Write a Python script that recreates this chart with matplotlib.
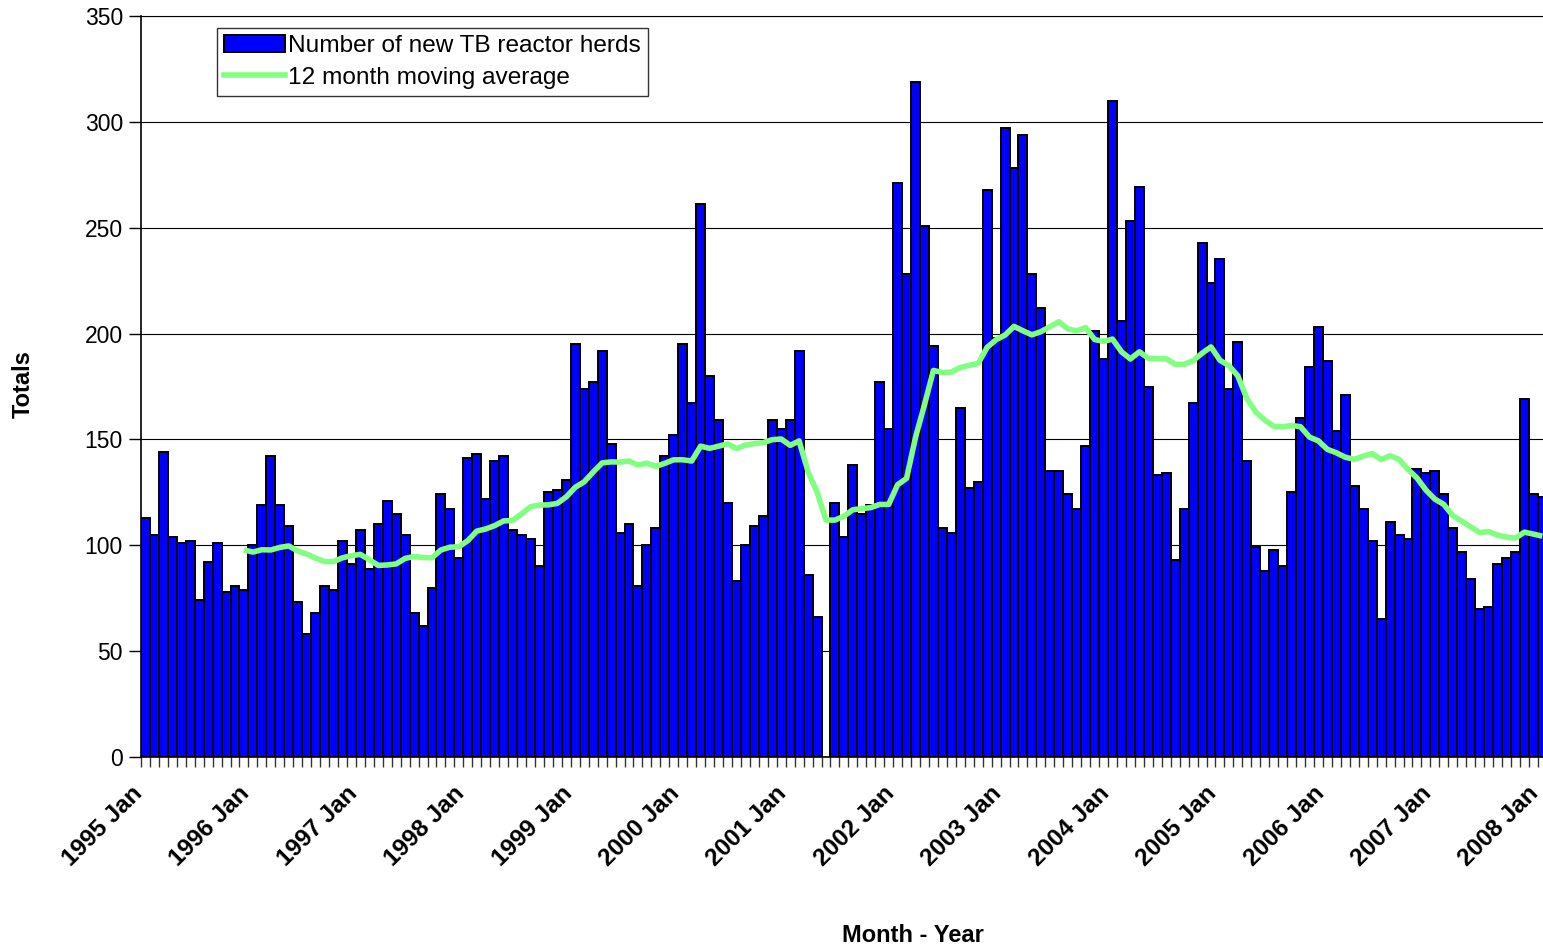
import numpy as np
import matplotlib
matplotlib.use("Agg")
import matplotlib.pyplot as plt
from matplotlib.patches import Patch
from matplotlib.lines import Line2D
from matplotlib.transforms import ScaledTranslation, blended_transform_factory

plt.rcParams['font.family'] = ['Liberation Sans', 'DejaVu Sans']

# Monthly number of new TB reactor herds, Jan 1995 .. Jan 2008 (May 2001 missing)
y1995 = [113, 105, 144, 104, 101, 102, 74, 92, 101, 78, 81, 79]
y1996 = [100, 119, 142, 119, 109, 73, 58, 68, 81, 79, 102, 91]
y1997 = [107, 89, 110, 121, 115, 105, 68, 62, 80, 124, 117, 94]
y1998 = [141, 143, 122, 140, 142, 107, 105, 103, 90, 125, 126, 131]
y1999 = [195, 174, 177, 192, 148, 106, 110, 81, 100, 108, 142, 152]
y2000 = [195, 167, 261, 180, 159, 120, 83, 100, 109, 114, 159, 155]
y2001 = [159, 192, 86, 66, np.nan, 120, 104, 138, 115, 119, 177, 155]
y2002 = [271, 228, 319, 251, 194, 108, 106, 165, 127, 130, 268, 198]
y2003 = [297, 278, 294, 228, 212, 135, 135, 124, 117, 147, 201, 188]
y2004 = [310, 206, 253, 269, 175, 133, 134, 93, 117, 167, 243, 224]
y2005 = [235, 174, 196, 140, 99, 88, 98, 90, 125, 160, 184, 203]
y2006 = [187, 154, 171, 128, 117, 102, 65, 111, 105, 103, 136, 134]
y2007 = [135, 124, 108, 97, 84, 70, 71, 91, 94, 97, 169, 124]
y2008 = [123]

# 12 month moving average (starts Dec 1995)
ma_start = 11
ma_values = [97.8,
    96.8, 97.9, 97.8, 99.0, 99.7, 97.3, 95.9, 93.9, 92.3, 92.3, 94.1, 95.1,
    95.7, 93.2, 90.5, 90.7, 91.2, 93.8, 94.7, 94.2, 94.1, 97.8, 99.1, 99.3,
    102.2, 106.7, 107.7, 109.3, 111.5, 111.7, 114.8, 118.2, 119.0, 119.1, 119.8, 122.9,
    127.4, 130.0, 134.6, 138.9, 139.4, 139.3, 139.8, 137.9, 138.8, 137.3, 138.7, 140.4,
    140.4, 139.8, 146.8, 145.8, 146.8, 147.9, 145.7, 147.3, 148.0, 148.5, 149.9, 150.2,
    147.2, 149.3, 134.7, 125.2, 111.9, 111.9, 113.7, 116.8, 117.3, 117.8, 119.3, 119.3,
    128.6, 131.6, 151.0, 166.4, 182.6, 181.6, 181.8, 184.0, 185.0, 185.9, 193.5, 197.1,
    199.3, 203.4, 201.3, 199.4, 200.9, 203.2, 205.6, 202.2, 201.3, 202.8, 197.2, 196.3,
    197.4, 191.4, 188.0, 191.4, 188.3, 188.2, 188.1, 185.5, 185.5, 187.2, 190.7, 193.7,
    187.4, 184.8, 180.0, 169.3, 162.9, 159.2, 156.2, 155.9, 156.6, 156.0, 151.1, 149.3,
    145.3, 143.7, 141.6, 140.6, 142.1, 143.3, 140.5, 142.3, 140.6, 135.8, 131.8, 126.1,
    121.8, 119.3, 114.0, 111.4, 108.7, 106.0, 106.5, 104.8, 103.9, 103.4, 106.2, 105.3,
    104.3]

year_labels = ["1995 Jan", "1996 Jan", "1997 Jan", "1998 Jan", "1999 Jan", "2000 Jan",
               "2001 Jan", "2002 Jan", "2003 Jan", "2004 Jan", "2005 Jan", "2006 Jan",
               "2007 Jan", "2008 Jan"]
y_ticks = [0, 50, 100, 150, 200, 250, 300, 350]

counts = np.array(y1995 + y1996 + y1997 + y1998 + y1999 + y2000 + y2001 +
                  y2002 + y2003 + y2004 + y2005 + y2006 + y2007 + y2008, dtype=float)
n = len(counts)
x = np.arange(n)
ma = np.array(ma_values)
ma_x = np.arange(ma_start, ma_start + len(ma))

W, H = 1543, 951
fig = plt.figure(figsize=(W / 100, H / 100), dpi=100)
left, right, top, bottom = 141, 1543, 16, 757
ax = fig.add_axes([left / W, 1 - bottom / H, (right - left) / W, (bottom - top) / H])

ax.set_axisbelow(True)
ax.yaxis.grid(True, color='black', linewidth=0.8)
ax.set_yticks(y_ticks)
ax.set_yticklabels([str(v) for v in y_ticks], fontsize=16.5)

valid = ~np.isnan(counts)
ax.bar(x[valid], counts[valid], width=1.0, color='#0000FF', edgecolor='black',
       linewidth=1.4, zorder=2)
ax.plot(ma_x, ma, color='#80FF80', linewidth=4.0, zorder=3, solid_capstyle='butt')

# month ticks between categories, no major tick marks
ax.set_xticks([])
ax.set_xticks(np.arange(n + 1) - 0.5, minor=True)
ax.tick_params(axis='x', which='minor', length=7, width=1, direction='out', color='#333333')
ax.tick_params(axis='y', which='major', length=9, width=1, direction='out', pad=4)

pitch = 8.954
ax.set_xlim(-0.5, -0.5 + (right - left) / pitch)
ax.set_ylim(0, 350)

# year labels at each January, anchored just left of the bar centre
lab_trans = blended_transform_factory(ax.transData, ax.transAxes) + \
    ScaledTranslation(-15 / 100, -25 / 100, fig.dpi_scale_trans)
for i, lbl in zip(range(0, n, 12), year_labels):
    ax.text(i, 0, lbl, transform=lab_trans, rotation=45, ha='right', va='top',
            rotation_mode='anchor', fontsize=17.5, fontweight='bold', clip_on=False)

ax.spines['right'].set_visible(False)
ax.spines['top'].set_linewidth(0.8)
ax.spines['left'].set_linewidth(1.2)
ax.spines['bottom'].set_linewidth(1.2)

fig.text(23 / W, 1 - 384 / H, 'Totals', rotation=90, ha='center', va='center',
         fontsize=17, fontweight='bold')
fig.text(913 / W, 1 - 936 / H, 'Month - Year', ha='center', va='center',
         fontsize=17, fontweight='bold')

handles = [Patch(facecolor='#0000FF', edgecolor='black', linewidth=1.4),
           Line2D([0], [0], color='#80FF80', linewidth=4.0)]
leg = fig.legend(handles, ['Number of new TB reactor herds', '12 month moving average'],
                 loc='upper left', bbox_to_anchor=(217 / W, 1 - 28 / H),
                 fontsize=17.6, frameon=True, fancybox=False, shadow=False,
                 handlelength=2.5, handletextpad=0.1, borderpad=0.3,
                 labelspacing=0.38, borderaxespad=0)
leg.get_frame().set_edgecolor('black')
leg.get_frame().set_linewidth(1.0)

fig.savefig('out.png', dpi=100)
